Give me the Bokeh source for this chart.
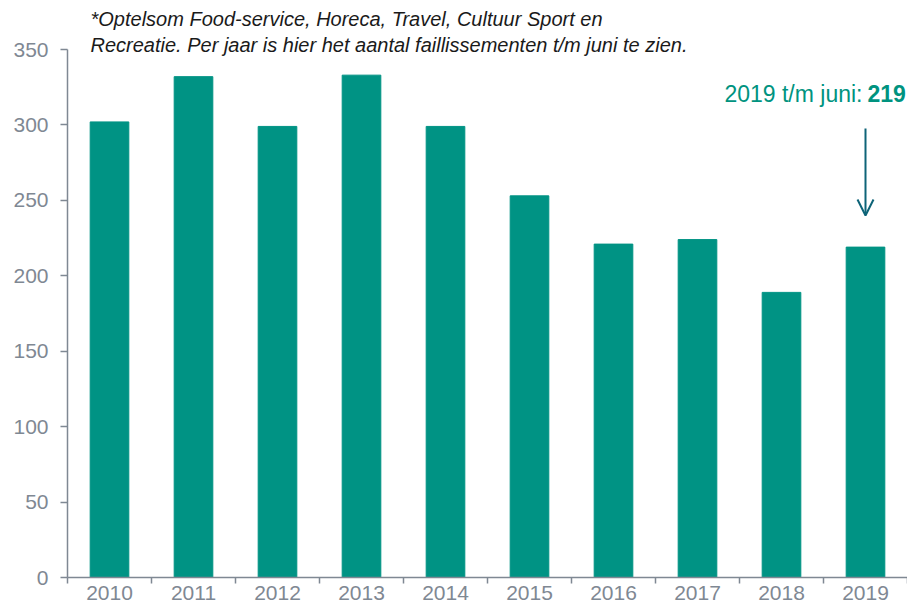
from bokeh.plotting import figure
from bokeh.models import FixedTicker, Label, Arrow, OpenHead, Range1d
from bokeh.embed import file_html
from bokeh.resources import INLINE

years = ["2010", "2011", "2012", "2013", "2014", "2015", "2016", "2017", "2018", "2019"]
values = [302, 332, 299, 333, 299, 253, 221, 224, 189, 219]
y_ticks = [0, 50, 100, 150, 200, 250, 300, 350]

bar_color = "#009384"
axis_color = "#7F8893"
teal = "#00937F"
arrow_color = "#0E6478"

W, H = 907, 607
LEFT, BOTTOM = 67, 30
frame_h = H - BOTTOM          # frame spans the full height above the x axis
top_px = 49                   # where 350 sits, from the top
y_end = 350 * frame_h / (frame_h - top_px)

p = figure(width=W, height=H, output_backend="svg", toolbar_location=None,
           x_range=Range1d(0, len(years)), y_range=Range1d(0, y_end))
p.min_border_left = LEFT
p.min_border_right = 0
p.min_border_top = 0
p.min_border_bottom = BOTTOM
p.outline_line_color = None
p.grid.visible = False

xs = [i + 0.5 for i in range(len(years))]
p.vbar(x=xs, top=values, width=0.46, color=bar_color, line_color=bar_color)

xa = p.xaxis[0]
xa.ticker = FixedTicker(ticks=xs, minor_ticks=list(range(len(years) + 1)))
xa.major_label_overrides = {x: y for x, y in zip(xs, years)}
xa.major_tick_out = 0
xa.major_tick_in = 0
xa.minor_tick_out = 6
xa.minor_tick_in = 0
xa.minor_tick_line_color = axis_color
xa.minor_tick_line_width = 1.5
xa.axis_line_color = axis_color
xa.axis_line_width = 1.5
xa.major_label_text_color = axis_color
xa.major_label_text_font = "Liberation Sans"
xa.major_label_text_font_size = "21px"
xa.major_label_standoff = 2

ya = p.yaxis[0]
ya.ticker = FixedTicker(ticks=y_ticks)
ya.bounds = (0, 350)
ya.major_tick_out = 7
ya.major_tick_in = 0
ya.minor_tick_out = 0
ya.minor_tick_in = 0
ya.major_tick_line_color = axis_color
ya.major_tick_line_width = 1.5
ya.axis_line_color = axis_color
ya.axis_line_width = 1.5
ya.major_label_text_color = axis_color
ya.major_label_text_font = "Liberation Sans"
ya.major_label_text_font_size = "21px"
ya.major_label_standoff = 12

# screen units are measured from the frame's bottom-left corner
def sx(px):
    return px - LEFT

def sy(py):
    return frame_h - py

note1 = "*Optelsom Food-service, Horeca, Travel, Cultuur Sport en"
note2 = "Recreatie. Per jaar is hier het aantal faillissementen t/m juni te zien."
for py, t in [(18, note1), (44, note2)]:
    p.add_layout(Label(x=sx(90), y=sy(py), x_units="screen", y_units="screen", text=t,
                       text_font="Liberation Sans", text_font_style="italic",
                       text_font_size="20px", text_color="#1a1a1a",
                       text_baseline="middle", text_align="left"))

p.add_layout(Label(x=sx(862), y=sy(93), x_units="screen", y_units="screen",
                   text="2019 t/m juni:", text_font="Liberation Sans", text_font_size="23px",
                   text_color=teal, text_baseline="middle", text_align="right"))
p.add_layout(Label(x=sx(867), y=sy(93), x_units="screen", y_units="screen",
                   text=str(values[-1]), text_font="Liberation Sans", text_font_size="23px",
                   text_font_style="bold",
                   text_color=teal, text_baseline="middle", text_align="left"))

px_per_unit = (frame_h - top_px) / 350
p.add_layout(Arrow(end=OpenHead(size=16, line_color=arrow_color, line_width=2),
                   x_start=xs[-1], y_start=(frame_h - 128) / px_per_unit,
                   x_end=xs[-1], y_end=(frame_h - 215) / px_per_unit,
                   line_color=arrow_color, line_width=2))

open("out.html", "w").write(file_html(p, INLINE))
